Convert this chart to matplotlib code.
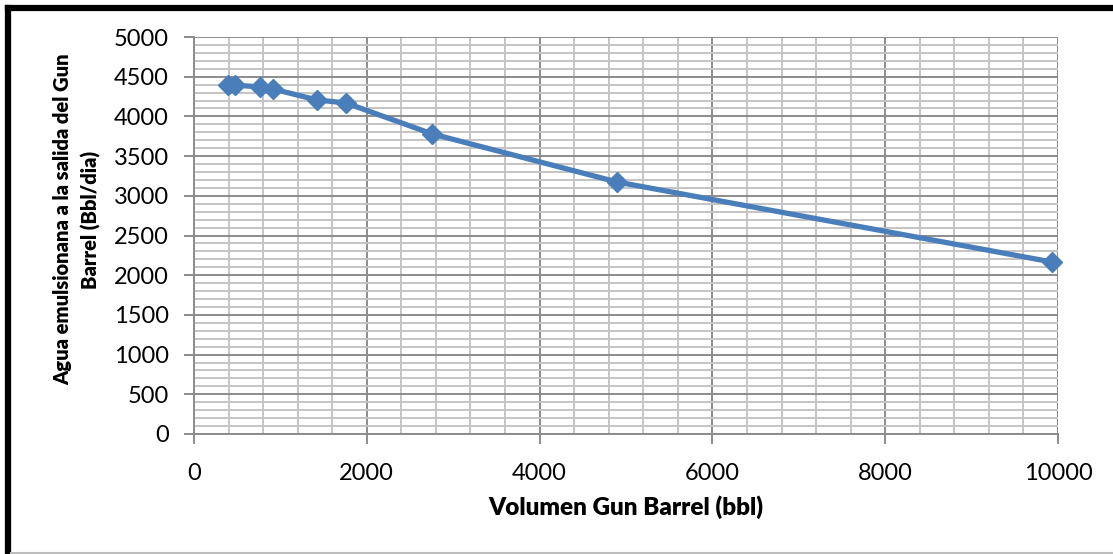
import numpy as np
import matplotlib.pyplot as plt
from matplotlib.lines import Line2D
from matplotlib.ticker import MultipleLocator

plt.rcParams['font.family'] = ['Lato', 'DejaVu Sans']

# volumen del gun barrel vs agua emulsionada a la salida
volumen = [393, 475, 764, 914, 1424, 1759, 2755, 4896, 9931]
agua = [4395, 4395, 4370, 4345, 4207, 4169, 3780, 3174, 2166]

fig = plt.figure(figsize=(11.13, 5.54), dpi=100)
W, H = 1113, 554
ax = fig.add_axes([194 / W, 1 - 434 / H, (1058 - 194) / W, (434 - 37) / H])

ax.set_xlim(0, 10000)
ax.set_ylim(0, 5000)
ax.xaxis.set_major_locator(MultipleLocator(2000))
ax.xaxis.set_minor_locator(MultipleLocator(400))
ax.yaxis.set_major_locator(MultipleLocator(500))
ax.yaxis.set_minor_locator(MultipleLocator(100))

ax.grid(which='major', color='#8c8c8c', lw=1.4)
ax.grid(which='minor', color='#c4c4c4', lw=1.4)
ax.set_axisbelow(True)

for s in ['top', 'right']:
    ax.spines[s].set_visible(False)
for s in ['left', 'bottom']:
    ax.spines[s].set_color('#8c8c8c')
    ax.spines[s].set_linewidth(1.4)

ax.tick_params(which='major', length=7, width=1.4, color='#8c8c8c', labelsize=17, pad=11)
ax.tick_params(axis='x', which='major', pad=14)
ax.tick_params(which='minor', length=0)

ax.plot(volumen, agua, color='#4a7ebb', lw=3.8, marker='D', ms=10.5, clip_on=False)

ax.set_xlabel('Volumen Gun Barrel (bbl)', fontsize=17.5, fontweight='heavy', labelpad=8)
ax.set_ylabel('Agua emulsionana a la salida del Gun\nBarrel (Bbl/dia)', fontsize=14.5,
              fontweight='heavy', linespacing=1.5)
ax.yaxis.set_label_coords(-0.108, 0.54)

# marco del grafico
fig.add_artist(Line2D([8 / W, 1], [1 - 8 / H, 1 - 8 / H], color='black', lw=4.5))
fig.add_artist(Line2D([8 / W, 8 / W], [1 - 8 / H, 0], color='black', lw=4.5))
fig.add_artist(Line2D([11 / W, 1], [1.5 / H, 1.5 / H], color='#bdbdbd', lw=1.5))

fig.savefig('out.png', dpi=100)
